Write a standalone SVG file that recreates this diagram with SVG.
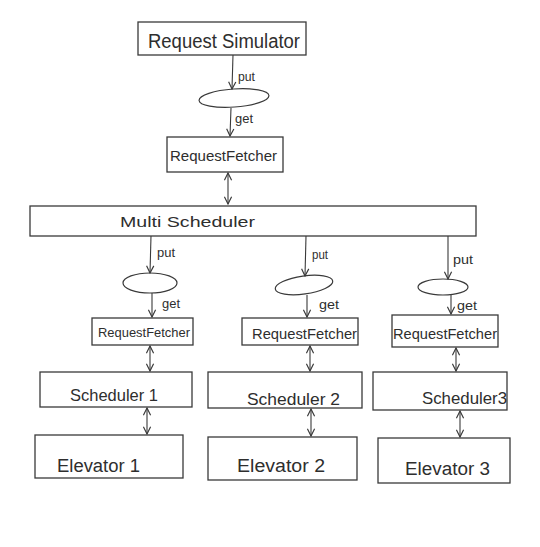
<svg xmlns="http://www.w3.org/2000/svg" width="540" height="547" viewBox="0 0 540 547">
<style>
.box{fill:none;stroke:#3a3a3a;stroke-width:1.3}
.q{fill:none;stroke:#3a3a3a;stroke-width:1.2}
.ln{fill:none;stroke:#3a3a3a;stroke-width:1.1}
text{font-family:"Liberation Sans",Arial,sans-serif;fill:#2e2e2e}
.lbl{font-size:12px}
</style>
<defs>
<marker id="ah" viewBox="0 0 10 10" refX="9" refY="5" markerWidth="9" markerHeight="9" orient="auto-start-reverse" markerUnits="userSpaceOnUse">
<polyline points="1,1 9,5 1,9" fill="none" stroke="#3a3a3a" stroke-width="1.3"/>
</marker>
</defs>
<rect width="540" height="547" fill="#ffffff"/>
<g id="connectors">
<line class="ln" x1="233" y1="55" x2="232" y2="89" marker-end="url(#ah)"/>
<line class="ln" x1="231" y1="108" x2="230" y2="136" marker-end="url(#ah)"/>
<line class="ln" x1="228" y1="173" x2="228" y2="204" marker-start="url(#ah)" marker-end="url(#ah)"/>
<line class="ln" x1="151" y1="236" x2="150" y2="273" marker-end="url(#ah)"/>
<line class="ln" x1="152" y1="293" x2="152" y2="317" marker-end="url(#ah)"/>
<line class="ln" x1="150" y1="346" x2="150" y2="371" marker-start="url(#ah)" marker-end="url(#ah)"/>
<line class="ln" x1="147" y1="408" x2="147" y2="434" marker-start="url(#ah)" marker-end="url(#ah)"/>
<line class="ln" x1="306" y1="236" x2="305" y2="276" marker-end="url(#ah)"/>
<line class="ln" x1="307" y1="295" x2="307" y2="317" marker-end="url(#ah)"/>
<line class="ln" x1="310" y1="346" x2="310" y2="371" marker-start="url(#ah)" marker-end="url(#ah)"/>
<line class="ln" x1="311" y1="409" x2="311" y2="436" marker-start="url(#ah)" marker-end="url(#ah)"/>
<line class="ln" x1="448" y1="236" x2="448" y2="279" marker-end="url(#ah)"/>
<line class="ln" x1="451" y1="295" x2="451" y2="314" marker-end="url(#ah)"/>
<line class="ln" x1="456" y1="348" x2="456" y2="371" marker-start="url(#ah)" marker-end="url(#ah)"/>
<line class="ln" x1="460" y1="411" x2="460" y2="437" marker-start="url(#ah)" marker-end="url(#ah)"/>
<text class="lbl" x="238" y="81" textLength="17" lengthAdjust="spacingAndGlyphs">put</text>
<text class="lbl" x="235" y="123" textLength="18" lengthAdjust="spacingAndGlyphs">get</text>
<text class="lbl" x="157" y="257" textLength="18" lengthAdjust="spacingAndGlyphs">put</text>
<text class="lbl" x="162" y="308" textLength="18" lengthAdjust="spacingAndGlyphs">get</text>
<text class="lbl" x="312" y="259" textLength="16" lengthAdjust="spacingAndGlyphs">put</text>
<text class="lbl" x="319" y="309" textLength="20" lengthAdjust="spacingAndGlyphs">get</text>
<text class="lbl" x="453" y="264" textLength="20" lengthAdjust="spacingAndGlyphs">put</text>
<text class="lbl" x="457" y="310" textLength="20" lengthAdjust="spacingAndGlyphs">get</text>
</g>
<g id="request-simulator">
<rect class="box" x="138" y="22" width="168" height="33"/>
<text x="148" y="48" font-size="20" textLength="152" lengthAdjust="spacingAndGlyphs">Request Simulator</text>
</g>
<g id="queue-top">
<ellipse class="q" cx="234" cy="98" rx="35" ry="9" transform="rotate(-4 234 98)"/>
</g>
<g id="request-fetcher-top">
<rect class="box" x="167" y="137" width="116" height="35"/>
<text x="170" y="161" font-size="14" textLength="107" lengthAdjust="spacingAndGlyphs">RequestFetcher</text>
</g>
<g id="multi-scheduler">
<rect class="box" x="30" y="206" width="446" height="30"/>
<text x="120" y="227" font-size="15" textLength="135" lengthAdjust="spacingAndGlyphs">Multi Scheduler</text>
</g>
<g id="queue-1">
<ellipse class="q" cx="150" cy="283" rx="27" ry="10"/>
</g>
<g id="request-fetcher-1">
<rect class="box" x="92" y="318" width="101" height="27"/>
<text x="98" y="337" font-size="13" textLength="92" lengthAdjust="spacingAndGlyphs">RequestFetcher</text>
</g>
<g id="scheduler-1">
<rect class="box" x="40" y="372" width="152" height="35"/>
<text x="70" y="401" font-size="17" textLength="88" lengthAdjust="spacingAndGlyphs">Scheduler 1</text>
</g>
<g id="elevator-1">
<rect class="box" x="35" y="435" width="148" height="43"/>
<text x="57" y="472" font-size="18" textLength="83" lengthAdjust="spacingAndGlyphs">Elevator 1</text>
</g>
<g id="queue-2">
<ellipse class="q" cx="304" cy="285" rx="29" ry="9" transform="rotate(-8 304 285)"/>
</g>
<g id="request-fetcher-2">
<rect class="box" x="242" y="318" width="116" height="27"/>
<text x="252" y="339" font-size="14" textLength="105" lengthAdjust="spacingAndGlyphs">RequestFetcher</text>
</g>
<g id="scheduler-2">
<rect class="box" x="208" y="372" width="154" height="36"/>
<text x="247" y="405" font-size="17" textLength="93" lengthAdjust="spacingAndGlyphs">Scheduler 2</text>
</g>
<g id="elevator-2">
<rect class="box" x="208" y="437" width="149" height="43"/>
<text x="237" y="472" font-size="18" textLength="88" lengthAdjust="spacingAndGlyphs">Elevator 2</text>
</g>
<g id="queue-3">
<ellipse class="q" cx="443" cy="287" rx="25" ry="8"/>
</g>
<g id="request-fetcher-3">
<rect class="box" x="392" y="315" width="106" height="32"/>
<text x="393" y="339" font-size="14" textLength="104" lengthAdjust="spacingAndGlyphs">RequestFetcher</text>
</g>
<g id="scheduler-3">
<rect class="box" x="373" y="372" width="134" height="38"/>
<text x="422" y="404" font-size="17" textLength="85" lengthAdjust="spacingAndGlyphs">Scheduler3</text>
</g>
<g id="elevator-3">
<rect class="box" x="378" y="438" width="132" height="45"/>
<text x="405" y="475" font-size="18" textLength="85" lengthAdjust="spacingAndGlyphs">Elevator 3</text>
</g>
</svg>
